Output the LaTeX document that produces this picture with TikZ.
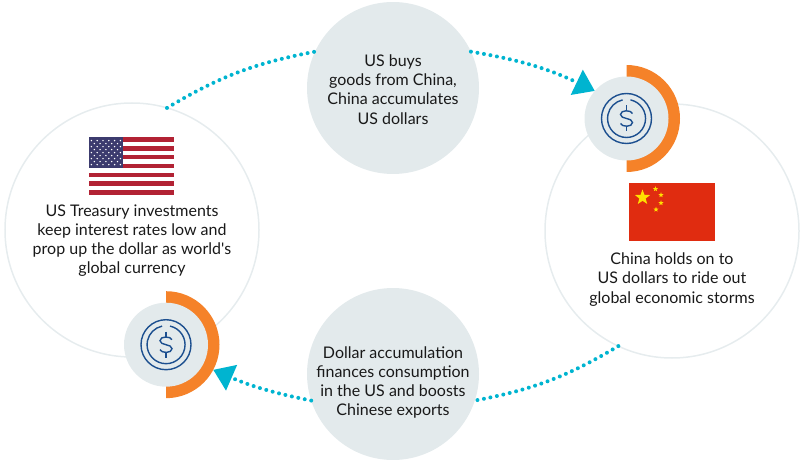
\documentclass[tikz,border=0pt]{standalone}
\usepackage{fontspec}
\setmainfont{Lato}
\usepackage{xcolor}
\usetikzlibrary{arrows.meta,shapes.geometric,calc}
\definecolor{bigline}{HTML}{E6ECEE}
\definecolor{disc}{HTML}{E3EAEC}
\definecolor{ringorange}{HTML}{F58229}
\definecolor{dots}{HTML}{00B4D0}
\definecolor{coinblue}{HTML}{1C4F8F}
\definecolor{usred}{HTML}{B22234}
\definecolor{usblue}{HTML}{3C3B6E}
\definecolor{cnred}{HTML}{E02C10}
\definecolor{cnstar}{HTML}{FFE000}

\begin{document}
\begin{tikzpicture}[x=1pt, y=-1pt,
    bigcircle/.style={circle, draw=bigline, line width=1.5pt, minimum size=254pt, inner sep=0pt, outer sep=0pt},
    greydisc/.style={circle, fill=disc, minimum size=#1, inner sep=0pt, outer sep=0pt},
    caption/.style={align=center, font=\fontsize{16}{19.2}\selectfont, text=black!90, inner sep=0pt},
    dotline/.style={dots, line width=4pt, line cap=round, dash pattern=on 0pt off 6.6pt, -{Triangle[length=20pt, width=27pt]}},
    dotplain/.style={dots, line width=4pt, line cap=round, dash pattern=on 0pt off 6.6pt},
    cnsmall/.style={star, star points=5, star point ratio=2.4, fill=cnstar, minimum size=#1, inner sep=0pt}]
\useasboundingbox (0,0) rectangle (800,462);
\node[bigcircle] (usa) at (132,230) {};
\node[bigcircle] (china) at (672,231) {};
\node[greydisc=172pt] (buys) at (393,88) {};
\node[greydisc=172pt] (accum) at (393,374) {};
\foreach \name/\px/\py in {coinchina/626.5/118.5, coinusa/166/344.7}
{
    \fill[ringorange] (\px,\py-53.5) arc[start angle=-90, end angle=90, radius=53.5] -- cycle;
    \node[greydisc=84pt] (\name) at (\px,\py) {};
    \begin{scope}[shift={(\px,\py)}, coinblue, line width=1.4pt]
    \draw (0,0) circle (25);
    \draw (4,-18.6) arc[start angle=-78, end angle=258, radius=19];
    \draw (6,-5) .. controls (5,-8.5) and (-6,-9) .. (-6,-4) .. controls (-6,1) and (6,-1) .. (6,4) .. controls (6,9) and (-5,8.5) .. (-6,5);
    \draw (0,-13) -- (0,-8);
    \draw (0,8) -- (0,13);
    \end{scope}
}
\coordinate (tipchina) at (coinchina.139);
\coordinate (tipusa) at ($(coinusa)+(-28:53.5pt)$);
\draw[dotplain] (usa.74) to[bend left=10] (buys.155);
\draw[dotline] (buys.25) to[bend left=8] (tipchina);
\draw[dotplain] (china.245) to[bend left=10] (accum.-18);
\draw[dotline] (accum.198) to[bend left=6] (tipusa);
\node[caption] (buystext) at (393,89.5) {US buys\\goods from China,\\China accumulates\\US dollars};
\node[caption] (accumtext) at (393,382.5) {Dollar accumulation\\finances consumption\\in the US and boosts\\Chinese exports};
\node[caption] (usatext) at (132,240.5) {US Treasury investments\\keep interest rates low and\\prop up the dollar as world\textquotesingle s\\global currency};
\node[caption] (chinatext) at (672,279.5) {China holds on to\\US dollars to ride out\\global economic storms};
% US flag
\foreach \i in {0,2,...,12}
    \fill[usred] (88.5,137.5+4.4*\i) rectangle (174,137.5+4.4*\i+4.4);
\fill[usblue] (88.5,137.5) rectangle (123,168.3);
\foreach \r in {0,2,4,6,8}
    \foreach \c in {0,...,5}
        \fill[white] (91.4+5.8*\c,140.6+3*\r) circle (0.8);
\foreach \r in {1,3,5,7}
    \foreach \c in {0,...,4}
        \fill[white] (94.3+5.8*\c,140.6+3*\r) circle (0.8);
% China flag
\fill[cnred] (629,183.5) rectangle (715,241);
\node[cnsmall=16pt] (bigstar) at (642.5,197.5) {};
\foreach \sx/\sy in {655.5/189, 661/195, 661/203, 656/209.5}
    \node[cnsmall=5.5pt] at (\sx,\sy) {};
\end{tikzpicture}
\end{document}
